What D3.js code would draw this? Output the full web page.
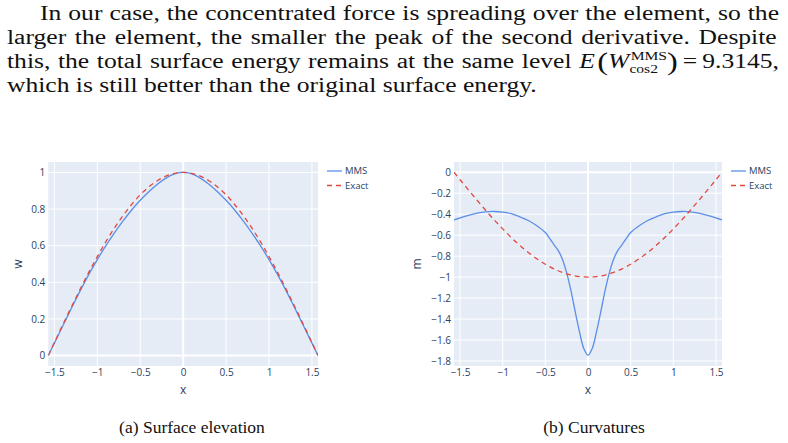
<!DOCTYPE html>
<html>
<head>
<meta charset="utf-8">
<script src="https://cdn.jsdelivr.net/npm/d3@7"></script>
<style>
  html, body { margin: 0; padding: 0; background: #fff; }
  svg { display: block; }
</style>
</head>
<body>
<svg width="788" height="443"></svg>
<script>
// ---- data ----
const xTicks = [-1.5, -1, -0.5, 0, 0.5, 1, 1.5];
const wTicks = [0, 0.2, 0.4, 0.6, 0.8, 1];
const mTicks = [0, -0.2, -0.4, -0.6, -0.8, -1, -1.2, -1.4, -1.6, -1.8];

const xs = [-1.5708, -1.5, -1.4, -1.3, -1.2, -1.1, -1.0, -0.9, -0.8, -0.7, -0.6, -0.5, -0.4, -0.3, -0.2, -0.1, 0,
            0.1, 0.2, 0.3, 0.4, 0.5, 0.6, 0.7, 0.8, 0.9, 1.0, 1.1, 1.2, 1.3, 1.4, 1.5, 1.5708];
const wExact = [0, 0.071, 0.170, 0.267, 0.362, 0.454, 0.540, 0.622, 0.697, 0.765, 0.825, 0.878, 0.921, 0.955, 0.980, 0.995, 1,
                0.995, 0.980, 0.955, 0.921, 0.878, 0.825, 0.765, 0.697, 0.622, 0.540, 0.454, 0.362, 0.267, 0.170, 0.071, 0];
const wMMS = [0, 0.068, 0.164, 0.260, 0.353, 0.442, 0.524, 0.600, 0.670, 0.735, 0.795, 0.848, 0.895, 0.936, 0.969, 0.992, 1,
              0.992, 0.969, 0.936, 0.895, 0.848, 0.795, 0.735, 0.670, 0.600, 0.524, 0.442, 0.353, 0.260, 0.164, 0.068, 0];
const mExact = [0, -0.071, -0.170, -0.267, -0.362, -0.454, -0.540, -0.622, -0.697, -0.765, -0.825, -0.878, -0.921, -0.955, -0.980, -0.995, -1,
                -0.995, -0.980, -0.955, -0.921, -0.878, -0.825, -0.765, -0.697, -0.622, -0.540, -0.454, -0.362, -0.267, -0.170, -0.071, 0];

const xsM = [-1.5708, -1.5, -1.4, -1.3, -1.2, -1.1, -1.0, -0.9, -0.8, -0.7, -0.6, -0.5, -0.45, -0.4, -0.35, -0.3, -0.25, -0.2, -0.15, -0.1, -0.05, 0,
             0.05, 0.1, 0.15, 0.2, 0.25, 0.3, 0.35, 0.4, 0.45, 0.5, 0.6, 0.7, 0.8, 0.9, 1.0, 1.1, 1.2, 1.3, 1.4, 1.5, 1.5708];
const mMMS = [-0.455, -0.435, -0.41, -0.39, -0.377, -0.374, -0.38, -0.395, -0.425, -0.46, -0.51, -0.575, -0.63, -0.69, -0.745, -0.83, -0.96, -1.13, -1.33, -1.52, -1.68, -1.745,
              -1.68, -1.52, -1.33, -1.13, -0.96, -0.83, -0.745, -0.69, -0.63, -0.575, -0.51, -0.46, -0.425, -0.395, -0.38, -0.374, -0.377, -0.39, -0.41, -0.435, -0.455];

const seriesNames = ["MMS", "Exact"];

const BLUE = "#5b8ee8", RED = "#e5473d";
const svg = d3.select("svg");

// ---- paragraph (Times stretched sideways to get the wide Computer Modern look) ----
const para = svg.append("g")
  .attr("font-family", "'Liberation Serif', 'DejaVu Serif', serif")
  .attr("font-size", 20.5)
  .attr("fill", "#111");
const R = 779;
const lastLine = "which is still better than the original surface energy.";
const probe = para.append("text").text(lastLine);
const sx = 530 / probe.node().getComputedTextLength();
probe.remove();
para.attr("transform", `scale(${sx},1)`);

// spread the spaces so the line ends at R (bbox width also counts dx shifts)
function justify(sel, left) {
  const node = sel.node();
  const natural = node.getBBox().width;
  const spaces = (node.textContent.match(/ /g) || []).length;
  sel.attr("word-spacing", ((R - left) / sx - natural) / spaces);
}

const l1 = para.append("text").attr("x", 40 / sx).attr("y", 20.5)
  .text("In our case, the concentrated force is spreading over the element, so the");
justify(l1, 40);
const l2 = para.append("text").attr("x", 7 / sx).attr("y", 44.5)
  .text("larger the element, the smaller the peak of the second derivative.  Despite");
justify(l2, 7);

const l3 = para.append("text").attr("x", 7 / sx).attr("y", 68.5);
const before = "this, the total surface energy remains at the same level ";
l3.append("tspan").text(before);
l3.append("tspan").attr("font-style", "italic").text("E");
l3.append("tspan").attr("dx", 2).attr("dy", 2).attr("font-size", 26).text("(");
l3.append("tspan").attr("dy", -2).attr("font-style", "italic").text("W");
l3.append("tspan").attr("dx", 1).attr("dy", -8).attr("font-size", 12.5).text("MMS");
l3.append("tspan").attr("dy", 10).attr("font-size", 26).text(")");
l3.append("tspan").attr("dx", 4).attr("dy", -2).text("=");
l3.append("tspan").attr("dx", 4).text("9.3145,");
justify(l3, 7);
const subX = l3.node().getStartPositionOfChar(before.length + 3).x;
para.append("text").attr("x", subX - 1).attr("y", 68.5 + 5).attr("font-size", 12.5).text("cos2");

para.append("text").attr("x", 7 / sx).attr("y", 92.5).text(lastLine);

// ---- captions ----
const cap = svg.append("g")
  .attr("font-family", "'Liberation Serif', 'DejaVu Serif', serif")
  .attr("font-size", 17.5).attr("fill", "#111").attr("text-anchor", "middle");
cap.append("text").attr("x", 192).attr("y", 433).text("(a) Surface elevation");
cap.append("text").attr("x", 594).attr("y", 433).text("(b) Curvatures");

// ---- charts ----
const fmt = d3.format("~g");

function drawChart(cfg, idx) {
  const x = d3.scaleLinear().domain([-1.5708, 1.5708]).range([cfg.left, cfg.right]);
  const y = d3.scaleLinear().domain(cfg.yDomain).range([366, 162]);
  const g = svg.append("g").attr("font-family", "'Open Sans', sans-serif").attr("fill", "#2a3f5f");

  g.append("rect").attr("x", cfg.left).attr("y", 162)
    .attr("width", cfg.right - cfg.left).attr("height", 204).attr("fill", "#e5ecf6");

  g.selectAll(".gx").data(xTicks).enter().append("line")
    .attr("x1", d => x(d)).attr("x2", d => x(d)).attr("y1", 162).attr("y2", 366)
    .attr("stroke", "#fff").attr("stroke-width", d => d === 0 ? 2 : 1);
  g.selectAll(".gy").data(cfg.yTicks).enter().append("line")
    .attr("x1", cfg.left).attr("x2", cfg.right).attr("y1", d => y(d)).attr("y2", d => y(d))
    .attr("stroke", "#fff").attr("stroke-width", d => d === 0 ? 2 : 1);

  const ax = g.append("g").attr("transform", "translate(0,366)")
    .call(d3.axisBottom(x).tickValues(xTicks).tickSize(0).tickPadding(3).tickFormat(fmt));
  const ay = g.append("g").attr("transform", `translate(${cfg.left},0)`)
    .call(d3.axisLeft(y).tickValues(cfg.yTicks).tickSize(0).tickPadding(3).tickFormat(fmt));
  [ax, ay].forEach(a => {
    a.select(".domain").remove();
    a.selectAll("text").attr("fill", "#2a3f5f").attr("font-size", 10)
      .attr("font-family", "'Open Sans', sans-serif");
  });

  g.append("text").attr("x", x(0)).attr("y", 394).attr("text-anchor", "middle")
    .attr("font-size", 12).text("x");
  g.append("text").attr("transform", `translate(${cfg.titleX},264) rotate(-90)`)
    .attr("text-anchor", "middle").attr("font-size", 12).text(cfg.yTitle);

  const clipId = "clip" + idx;
  g.append("clipPath").attr("id", clipId).append("rect")
    .attr("x", cfg.left).attr("y", 162).attr("width", cfg.right - cfg.left).attr("height", 204);

  const line = d3.line().x(d => x(d[0])).y(d => y(d[1])).curve(d3.curveCatmullRom);
  const lines = g.append("g").attr("clip-path", `url(#${clipId})`).attr("fill", "none");
  lines.append("path").attr("d", line(d3.zip(cfg.mmsX, cfg.mms)))
    .attr("stroke", BLUE).attr("stroke-width", 1.3);
  lines.append("path").attr("d", line(d3.zip(xs, cfg.exact)))
    .attr("stroke", RED).attr("stroke-width", 1.3).attr("stroke-dasharray", "5,4");

  const leg = g.append("g").attr("transform", `translate(${cfg.legendX},0)`);
  seriesNames.forEach((name, i) => {
    const ly = 171 + i * 14.5;
    leg.append("line").attr("x1", 0).attr("x2", 15).attr("y1", ly).attr("y2", ly)
      .attr("stroke", i === 0 ? BLUE : RED).attr("stroke-width", 1.3)
      .attr("stroke-dasharray", i === 0 ? null : "5,4");
    leg.append("text").attr("x", 18).attr("y", ly).attr("dy", "0.35em")
      .attr("font-size", 9.5).text(name);
  });
}

drawChart({ left: 48.3, right: 318, yDomain: [-0.057, 1.057], yTicks: wTicks,
  mmsX: xs, mms: wMMS, exact: wExact, yTitle: "w", titleX: 22, legendX: 327 }, 0);
drawChart({ left: 454, right: 722, yDomain: [-1.848, 0.098], yTicks: mTicks,
  mmsX: xsM, mms: mMMS, exact: mExact, yTitle: "m", titleX: 421, legendX: 731 }, 1);
</script>
</body>
</html>
